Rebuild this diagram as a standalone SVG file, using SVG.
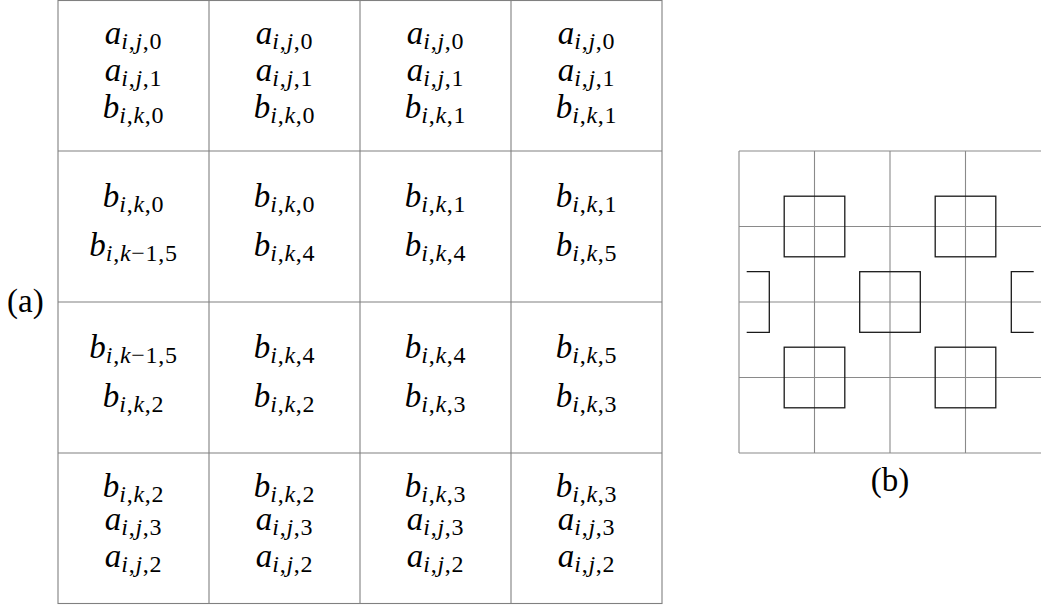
<svg xmlns="http://www.w3.org/2000/svg" width="1041" height="608" viewBox="0 0 1041 608">
<style>
.m{font-family:"Liberation Serif","Times New Roman",serif;font-size:33px;text-anchor:middle;fill:#000}
.v{font-style:italic}
.s{font-size:24px;letter-spacing:0.7px}
.lab{font-family:"Liberation Serif","Times New Roman",serif;font-size:33px;fill:#000}
.g{stroke:#808080;stroke-width:1.1;fill:none}
.g2{stroke:#8a8a8a;stroke-width:1.1;fill:none}
.sq{stroke:#1a1a1a;stroke-width:1.3;fill:none}
</style>
<rect width="1041" height="608" fill="#fff"/>
<g id="grid-a">
<rect class="g" x="58" y="0.5" width="604" height="603"/>
<path class="g" d="M209,0V604M360,0V604M511,0V604M58,151H662M58,302H662M58,453H662"/>
</g>
<g id="label-a"><text class="lab" x="7" y="312">(a)</text></g>

<g id="r1c1">
<text class="m" x="133.5" y="44"><tspan class="v">a</tspan><tspan class="s" dy="5"><tspan class="v">i</tspan>,<tspan class="v">j</tspan>,0</tspan></text>
<text class="m" x="133.5" y="81"><tspan class="v">a</tspan><tspan class="s" dy="5"><tspan class="v">i</tspan>,<tspan class="v">j</tspan>,1</tspan></text>
<text class="m" x="133.5" y="118"><tspan class="v">b</tspan><tspan class="s" dy="5"><tspan class="v">i</tspan>,<tspan class="v">k</tspan>,0</tspan></text>
</g>
<g id="r1c2">
<text class="m" x="284.5" y="44"><tspan class="v">a</tspan><tspan class="s" dy="5"><tspan class="v">i</tspan>,<tspan class="v">j</tspan>,0</tspan></text>
<text class="m" x="284.5" y="81"><tspan class="v">a</tspan><tspan class="s" dy="5"><tspan class="v">i</tspan>,<tspan class="v">j</tspan>,1</tspan></text>
<text class="m" x="284.5" y="118"><tspan class="v">b</tspan><tspan class="s" dy="5"><tspan class="v">i</tspan>,<tspan class="v">k</tspan>,0</tspan></text>
</g>
<g id="r1c3">
<text class="m" x="435.5" y="44"><tspan class="v">a</tspan><tspan class="s" dy="5"><tspan class="v">i</tspan>,<tspan class="v">j</tspan>,0</tspan></text>
<text class="m" x="435.5" y="81"><tspan class="v">a</tspan><tspan class="s" dy="5"><tspan class="v">i</tspan>,<tspan class="v">j</tspan>,1</tspan></text>
<text class="m" x="435.5" y="118"><tspan class="v">b</tspan><tspan class="s" dy="5"><tspan class="v">i</tspan>,<tspan class="v">k</tspan>,1</tspan></text>
</g>
<g id="r1c4">
<text class="m" x="586.5" y="44"><tspan class="v">a</tspan><tspan class="s" dy="5"><tspan class="v">i</tspan>,<tspan class="v">j</tspan>,0</tspan></text>
<text class="m" x="586.5" y="81"><tspan class="v">a</tspan><tspan class="s" dy="5"><tspan class="v">i</tspan>,<tspan class="v">j</tspan>,1</tspan></text>
<text class="m" x="586.5" y="118"><tspan class="v">b</tspan><tspan class="s" dy="5"><tspan class="v">i</tspan>,<tspan class="v">k</tspan>,1</tspan></text>
</g>

<g id="r2c1">
<text class="m" x="133.5" y="207"><tspan class="v">b</tspan><tspan class="s" dy="5"><tspan class="v">i</tspan>,<tspan class="v">k</tspan>,0</tspan></text>
<text class="m" x="133.5" y="256"><tspan class="v">b</tspan><tspan class="s" dy="5"><tspan class="v">i</tspan>,<tspan class="v">k</tspan>−1,5</tspan></text>
</g>
<g id="r2c2">
<text class="m" x="284.5" y="207"><tspan class="v">b</tspan><tspan class="s" dy="5"><tspan class="v">i</tspan>,<tspan class="v">k</tspan>,0</tspan></text>
<text class="m" x="284.5" y="256"><tspan class="v">b</tspan><tspan class="s" dy="5"><tspan class="v">i</tspan>,<tspan class="v">k</tspan>,4</tspan></text>
</g>
<g id="r2c3">
<text class="m" x="435.5" y="207"><tspan class="v">b</tspan><tspan class="s" dy="5"><tspan class="v">i</tspan>,<tspan class="v">k</tspan>,1</tspan></text>
<text class="m" x="435.5" y="256"><tspan class="v">b</tspan><tspan class="s" dy="5"><tspan class="v">i</tspan>,<tspan class="v">k</tspan>,4</tspan></text>
</g>
<g id="r2c4">
<text class="m" x="586.5" y="207"><tspan class="v">b</tspan><tspan class="s" dy="5"><tspan class="v">i</tspan>,<tspan class="v">k</tspan>,1</tspan></text>
<text class="m" x="586.5" y="256"><tspan class="v">b</tspan><tspan class="s" dy="5"><tspan class="v">i</tspan>,<tspan class="v">k</tspan>,5</tspan></text>
</g>

<g id="r3c1">
<text class="m" x="133.5" y="358"><tspan class="v">b</tspan><tspan class="s" dy="5"><tspan class="v">i</tspan>,<tspan class="v">k</tspan>−1,5</tspan></text>
<text class="m" x="133.5" y="407"><tspan class="v">b</tspan><tspan class="s" dy="5"><tspan class="v">i</tspan>,<tspan class="v">k</tspan>,2</tspan></text>
</g>
<g id="r3c2">
<text class="m" x="284.5" y="358"><tspan class="v">b</tspan><tspan class="s" dy="5"><tspan class="v">i</tspan>,<tspan class="v">k</tspan>,4</tspan></text>
<text class="m" x="284.5" y="407"><tspan class="v">b</tspan><tspan class="s" dy="5"><tspan class="v">i</tspan>,<tspan class="v">k</tspan>,2</tspan></text>
</g>
<g id="r3c3">
<text class="m" x="435.5" y="358"><tspan class="v">b</tspan><tspan class="s" dy="5"><tspan class="v">i</tspan>,<tspan class="v">k</tspan>,4</tspan></text>
<text class="m" x="435.5" y="407"><tspan class="v">b</tspan><tspan class="s" dy="5"><tspan class="v">i</tspan>,<tspan class="v">k</tspan>,3</tspan></text>
</g>
<g id="r3c4">
<text class="m" x="586.5" y="358"><tspan class="v">b</tspan><tspan class="s" dy="5"><tspan class="v">i</tspan>,<tspan class="v">k</tspan>,5</tspan></text>
<text class="m" x="586.5" y="407"><tspan class="v">b</tspan><tspan class="s" dy="5"><tspan class="v">i</tspan>,<tspan class="v">k</tspan>,3</tspan></text>
</g>

<g id="r4c1">
<text class="m" x="133.5" y="497"><tspan class="v">b</tspan><tspan class="s" dy="5"><tspan class="v">i</tspan>,<tspan class="v">k</tspan>,2</tspan></text>
<text class="m" x="133.5" y="530"><tspan class="v">a</tspan><tspan class="s" dy="5"><tspan class="v">i</tspan>,<tspan class="v">j</tspan>,3</tspan></text>
<text class="m" x="133.5" y="567"><tspan class="v">a</tspan><tspan class="s" dy="5"><tspan class="v">i</tspan>,<tspan class="v">j</tspan>,2</tspan></text>
</g>
<g id="r4c2">
<text class="m" x="284.5" y="497"><tspan class="v">b</tspan><tspan class="s" dy="5"><tspan class="v">i</tspan>,<tspan class="v">k</tspan>,2</tspan></text>
<text class="m" x="284.5" y="530"><tspan class="v">a</tspan><tspan class="s" dy="5"><tspan class="v">i</tspan>,<tspan class="v">j</tspan>,3</tspan></text>
<text class="m" x="284.5" y="567"><tspan class="v">a</tspan><tspan class="s" dy="5"><tspan class="v">i</tspan>,<tspan class="v">j</tspan>,2</tspan></text>
</g>
<g id="r4c3">
<text class="m" x="435.5" y="497"><tspan class="v">b</tspan><tspan class="s" dy="5"><tspan class="v">i</tspan>,<tspan class="v">k</tspan>,3</tspan></text>
<text class="m" x="435.5" y="530"><tspan class="v">a</tspan><tspan class="s" dy="5"><tspan class="v">i</tspan>,<tspan class="v">j</tspan>,3</tspan></text>
<text class="m" x="435.5" y="567"><tspan class="v">a</tspan><tspan class="s" dy="5"><tspan class="v">i</tspan>,<tspan class="v">j</tspan>,2</tspan></text>
</g>
<g id="r4c4">
<text class="m" x="586.5" y="497"><tspan class="v">b</tspan><tspan class="s" dy="5"><tspan class="v">i</tspan>,<tspan class="v">k</tspan>,3</tspan></text>
<text class="m" x="586.5" y="530"><tspan class="v">a</tspan><tspan class="s" dy="5"><tspan class="v">i</tspan>,<tspan class="v">j</tspan>,3</tspan></text>
<text class="m" x="586.5" y="567"><tspan class="v">a</tspan><tspan class="s" dy="5"><tspan class="v">i</tspan>,<tspan class="v">j</tspan>,2</tspan></text>
</g>

<g id="grid-b">
<path class="g2" d="M739,151V453M814.5,151V453M890,151V453M965.5,151V453M739,151H1041M739,226.5H1041M739,302H1041M739,377.5H1041M739,453H1041"/>
</g>
<g id="squares-b">
<rect class="sq" x="784.2" y="196.2" width="60.6" height="60.6"/>
<rect class="sq" x="935.2" y="196.2" width="60.6" height="60.6"/>
<rect class="sq" x="859.7" y="271.7" width="60.6" height="60.6"/>
<rect class="sq" x="784.2" y="347.2" width="60.6" height="60.6"/>
<rect class="sq" x="935.2" y="347.2" width="60.6" height="60.6"/>
<polyline class="sq" points="746.7,271.7 769.3,271.7 769.3,332.3 746.7,332.3"/>
<polyline class="sq" points="1033.7,271.7 1011.3,271.7 1011.3,332.3 1033.7,332.3"/>
</g>
<g id="label-b"><text class="lab" x="890" y="491" text-anchor="middle">(b)</text></g>
</svg>
